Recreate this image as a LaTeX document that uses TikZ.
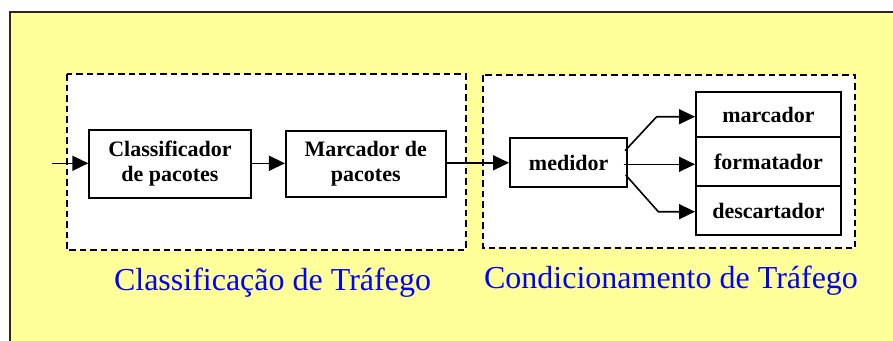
\documentclass[tikz,border=0pt]{standalone}
\usepackage{fontspec}
\setmainfont{Liberation Serif}
\usetikzlibrary{arrows.meta}
\definecolor{yel}{RGB}{255,255,153}
\definecolor{frame}{RGB}{40,40,40}
\begin{document}
\begin{tikzpicture}[x=1pt,y=-1pt,
  blockbox/.style={draw=black,line width=2pt,fill=white,inner sep=0pt,align=center,
    font=\fontsize{22}{25}\selectfont\bfseries},
  groupbox/.style={draw=black,line width=2pt,fill=white,dash pattern=on 6.5pt off 4pt},
  conn/.style={line width=1.6pt,-{Triangle[length=16pt 0 0,width=15pt 0 0]}},
  lbl/.style={text=blue,font=\fontsize{32}{36}\selectfont,anchor=base,inner sep=0pt}]
\useasboundingbox (0,0) rectangle (893,340);
\clip (0,0) rectangle (893,340);
\fill[white] (0,0) rectangle (893,340);
\draw[frame,line width=1.5pt,fill=yel] (10,12) rectangle (910,360);
% group boxes
\draw[groupbox] (66.7,74) rectangle (465.7,250);
\draw[groupbox] (483,75) rectangle (855,248);
% blocks
\node[blockbox,minimum width=161.4pt,minimum height=68pt] (cls) at (170,164) {Classificador\\de pacotes};
\node[blockbox,minimum width=159.7pt,minimum height=66.6pt] (mrk) at (365.8,164) {Marcador de\\pacotes};
\node[blockbox,minimum width=117.3pt,minimum height=49pt] (med) at (568.7,162.8) {medidor};
\node[blockbox,minimum width=145pt,minimum height=45.7pt] (m1) at (768.5,114.5) {marcador};
\node[blockbox,minimum width=145pt,minimum height=48.7pt] (m2) at (768.5,161.7) {formatador};
\node[blockbox,minimum width=145pt,minimum height=49pt] (m3) at (768.5,210.5) {descartador};
% connectors
\coordinate (in) at (51.7,163.3);
\draw[conn] (in) -- (in -| cls.west);
\draw[conn] (cls.east |- in) -- (mrk.west |- in);
\draw[conn] (mrk.east |- med.west) -- (med.west);
\coordinate (s1) at (625,150.7);
\coordinate (s2) at (623.7,164.3);
\coordinate (s3) at (625.7,175);
\coordinate (b1) at (656.7,116.7);
\coordinate (b3) at (658.3,211.7);
\draw[conn,line join=miter] (s1) -- (b1) -- (b1 -| m1.west);
\draw[conn] (s2) -- (s2 -| m2.west);
\draw[conn,line join=miter] (s3) -- (b3) -- (b3 -| m3.west);
% labels
\node[lbl] (l1) at (272.5,290.7) {Classificação de Tráfego};
\node[lbl] (l2) at (671,288.7) {Condicionamento de Tráfego};
\end{tikzpicture}
\end{document}
